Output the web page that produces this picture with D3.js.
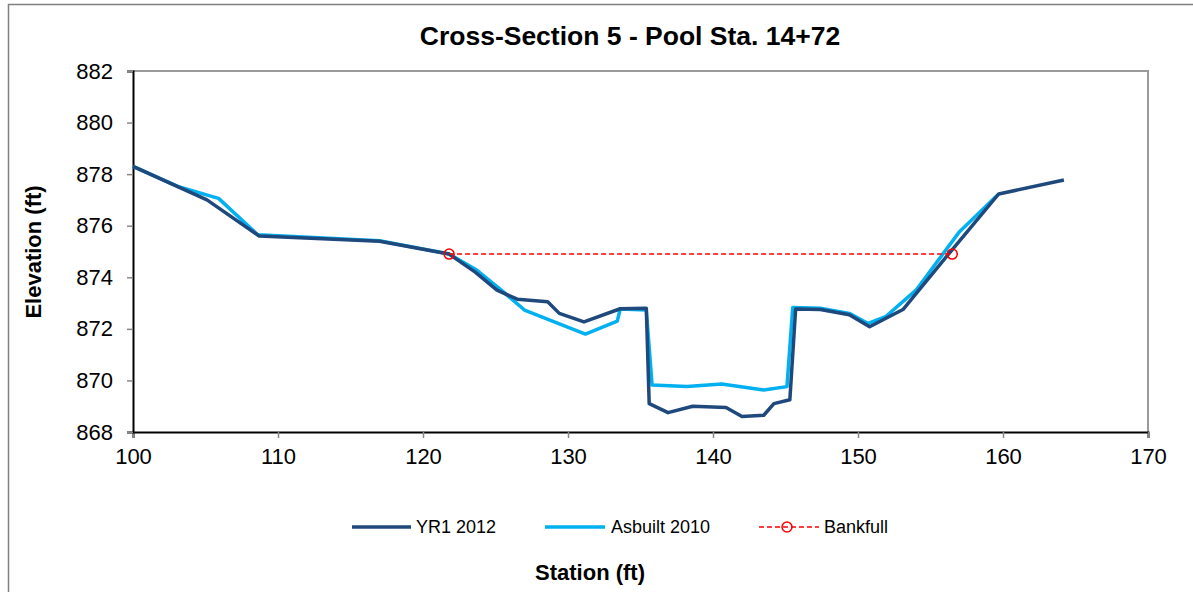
<!DOCTYPE html>
<html>
<head>
<meta charset="utf-8">
<script src="https://cdn.jsdelivr.net/npm/d3@7"></script>
<style>
  body { margin: 0; background: #fff; }
  svg { font-family: "Liberation Sans", Arial, sans-serif; }
</style>
</head>
<body>
<svg width="1193" height="592"></svg>
<script>
// data
const yr1Station = [100, 105.1, 108.7, 117.0, 121.8, 123.6, 125.1, 126.5, 128.6, 129.4, 131.1, 133.6, 135.4, 135.6, 136.9, 138.6, 140.9, 142.0, 143.5, 144.2, 145.3, 145.7, 147.4, 149.4, 150.8, 153.1, 156.1, 159.7, 164.2];
const yr1Elev = [878.3, 877.0, 875.6, 875.4, 874.9, 874.2, 873.5, 873.15, 873.05, 872.6, 872.27, 872.78, 872.8, 869.1, 868.75, 869.0, 868.95, 868.6, 868.65, 869.1, 869.25, 872.77, 872.75, 872.55, 872.08, 872.75, 874.8, 877.23, 877.77];

const asbStation = [100, 103.2, 105.9, 108.6, 117.0, 121.8, 123.7, 125.4, 127.0, 131.2, 133.4, 133.6, 135.4, 135.8, 138.2, 140.6, 143.5, 145.1, 145.5, 147.4, 149.4, 150.7, 151.9, 154.0, 157.0, 159.7];
const asbElev = [878.3, 877.5, 877.06, 875.65, 875.42, 874.9, 874.28, 873.5, 872.73, 871.8, 872.3, 872.77, 872.73, 869.82, 869.76, 869.86, 869.63, 869.76, 872.83, 872.8, 872.6, 872.21, 872.47, 873.5, 875.77, 877.23];

const bankStation = [121.8, 156.5];
const bankElev = [874.9, 874.9];

const xTicks = [100, 110, 120, 130, 140, 150, 160, 170];
const yTicks = [868, 870, 872, 874, 876, 878, 880, 882];

const seriesNames = ["YR1 2012", "Asbuilt 2010", "Bankfull"];
const colors = { yr1: '#1f497d', asb: '#00b0f0', bank: '#ff0000' };

let svg = d3.select('svg');

const plotL = 133, plotR = 1148, plotT = 71, plotB = 432;

// outer chart border
svg.append('rect')
    .attr('x', 8.5).attr('y', 4.5)
    .attr('width', 1190).attr('height', 600)
    .attr('fill', 'none')
    .attr('stroke', '#808080')
    .attr('stroke-width', 1.5);

let xScale = d3.scaleLinear()
    .domain([100, 170])
    .range([plotL, plotR]);

let yScale = d3.scaleLinear()
    .domain([868, 882])
    .range([plotB, plotT]);

// plot frame, top and right in gray
svg.append('path')
    .attr('d', `M${plotL},${plotT}H${plotR}V${plotB}`)
    .attr('fill', 'none')
    .attr('stroke', '#9a9a9a')
    .attr('stroke-width', 2);

let xAxis = svg.append('g')
    .attr('transform', `translate(0, ${plotB})`)
    .call(d3.axisBottom(xScale).tickValues(xTicks).tickSize(6).tickPadding(10).tickFormat(d3.format('d')));

let yAxis = svg.append('g')
    .attr('transform', `translate(${plotL}, 0)`)
    .call(d3.axisLeft(yScale).tickValues(yTicks).tickSize(6).tickPadding(14).tickFormat(d3.format('d')));

[xAxis, yAxis].forEach(ax => {
  ax.select('.domain').attr('stroke', '#000').attr('stroke-width', 2);
  ax.selectAll('.tick line').attr('stroke', '#888').attr('stroke-width', 1.5);
  ax.selectAll('.tick text')
    .attr('font-size', '22px')
    .attr('font-family', '"Liberation Sans", Arial, sans-serif')
    .attr('fill', '#000');
});

let line = d3.line()
    .x(d => xScale(d[0]))
    .y(d => yScale(d[1]));

const yr1 = d3.zip(yr1Station, yr1Elev);
const asb = d3.zip(asbStation, asbElev);
const bank = d3.zip(bankStation, bankElev);

svg.append('path')
    .datum(asb)
    .attr('d', line)
    .attr('fill', 'none')
    .attr('stroke', colors.asb)
    .attr('stroke-width', 3.5)
    .attr('stroke-linejoin', 'round');

svg.append('path')
    .datum(yr1)
    .attr('d', line)
    .attr('fill', 'none')
    .attr('stroke', colors.yr1)
    .attr('stroke-width', 3.5)
    .attr('stroke-linejoin', 'round');

svg.append('path')
    .datum(bank)
    .attr('d', line)
    .attr('fill', 'none')
    .attr('stroke', colors.bank)
    .attr('stroke-width', 1.5)
    .attr('stroke-dasharray', '5,3');

svg.selectAll('.bankpt')
    .data(bank)
    .enter()
    .append('circle')
    .attr('cx', d => xScale(d[0]))
    .attr('cy', d => yScale(d[1]))
    .attr('r', 5)
    .attr('fill', 'none')
    .attr('stroke', colors.bank)
    .attr('stroke-width', 1.5);

// titles
svg.append('text')
    .attr('x', 630).attr('y', 45)
    .attr('text-anchor', 'middle')
    .attr('font-size', '26.5px')
    .attr('font-weight', 'bold')
    .text('Cross-Section 5 - Pool Sta. 14+72');

svg.append('text')
    .attr('x', 590).attr('y', 580)
    .attr('text-anchor', 'middle')
    .attr('font-size', '22px')
    .attr('font-weight', 'bold')
    .text('Station (ft)');

svg.append('text')
    .attr('transform', 'translate(41, 252) rotate(-90)')
    .attr('text-anchor', 'middle')
    .attr('font-size', '22px')
    .attr('font-weight', 'bold')
    .text('Elevation (ft)');

// legend
const legendY = 527;
let legend = svg.append('g').attr('font-size', '18px');

legend.append('line')
    .attr('x1', 352).attr('x2', 411).attr('y1', legendY).attr('y2', legendY)
    .attr('stroke', colors.yr1).attr('stroke-width', 3.5);
legend.append('text')
    .attr('x', 416).attr('y', legendY + 6).text(seriesNames[0]);

legend.append('line')
    .attr('x1', 545).attr('x2', 605).attr('y1', legendY).attr('y2', legendY)
    .attr('stroke', colors.asb).attr('stroke-width', 3.5);
legend.append('text')
    .attr('x', 611).attr('y', legendY + 6).text(seriesNames[1]);

legend.append('line')
    .attr('x1', 759).attr('x2', 819).attr('y1', legendY).attr('y2', legendY)
    .attr('stroke', colors.bank).attr('stroke-width', 1.5)
    .attr('stroke-dasharray', '5,3');
legend.append('circle')
    .attr('cx', 787).attr('cy', legendY).attr('r', 5)
    .attr('fill', 'none').attr('stroke', colors.bank).attr('stroke-width', 1.5);
legend.append('text')
    .attr('x', 824).attr('y', legendY + 6).text(seriesNames[2]);
</script>
</body>
</html>
